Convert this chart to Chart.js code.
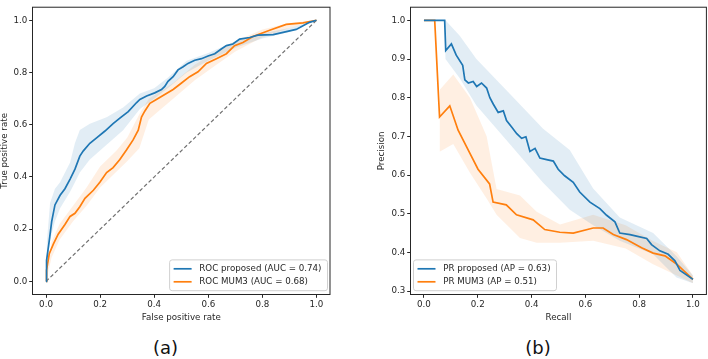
<!DOCTYPE html>
<html>
<head>
<meta charset="utf-8">
<script src="https://cdn.jsdelivr.net/npm/chart.js@4.4.1/dist/chart.umd.min.js"></script>
<style>
  body { margin: 0; background: #fff; width: 708px; height: 359px; overflow: hidden; position: relative; font-family: "DejaVu Sans", sans-serif; }
  canvas { position: absolute; top: 0; }
  #rocChart { left: 0; }
  #prChart { left: 354px; }
  .panel { position: absolute; top: 337px; font-size: 18px; line-height: 22px; text-align: center; color: #111; }
</style>
</head>
<body>
<canvas id="rocChart" width="354" height="330"></canvas>
<canvas id="prChart" width="354" height="330"></canvas>
<div class="panel" style="left:0;width:331px">(a)</div>
<div class="panel" style="left:400px;width:276px">(b)</div>

<script>
// ROC curves
const rocXProposed = [0, 0.002, 0.012, 0.021, 0.033, 0.052, 0.07, 0.089, 0.107, 0.125, 0.138, 0.162, 0.187, 0.218, 0.248, 0.273, 0.304, 0.335, 0.347, 0.372, 0.402, 0.427, 0.439, 0.451, 0.47, 0.488, 0.507, 0.525, 0.55, 0.575, 0.599, 0.624, 0.648, 0.667, 0.691, 0.716, 0.753, 0.783, 0.84, 0.925, 0.974, 1];
const rocYProposed = [0, 0.081, 0.156, 0.23, 0.293, 0.33, 0.355, 0.392, 0.43, 0.48, 0.5, 0.529, 0.55, 0.576, 0.604, 0.625, 0.65, 0.685, 0.697, 0.71, 0.722, 0.735, 0.747, 0.766, 0.784, 0.81, 0.822, 0.835, 0.847, 0.853, 0.863, 0.872, 0.89, 0.903, 0.909, 0.928, 0.934, 0.943, 0.945, 0.965, 0.992, 1];
const rocXMum3 = [0, 0.002, 0.012, 0.027, 0.045, 0.07, 0.089, 0.107, 0.125, 0.144, 0.175, 0.199, 0.224, 0.248, 0.273, 0.298, 0.322, 0.341, 0.353, 0.365, 0.384, 0.408, 0.439, 0.47, 0.501, 0.531, 0.562, 0.593, 0.63, 0.667, 0.697, 0.728, 0.765, 0.827, 0.888, 0.95, 1];
const rocYMum3 = [0, 0.043, 0.106, 0.143, 0.181, 0.218, 0.249, 0.261, 0.286, 0.318, 0.349, 0.38, 0.417, 0.436, 0.467, 0.504, 0.542, 0.579, 0.629, 0.652, 0.682, 0.697, 0.716, 0.735, 0.76, 0.784, 0.803, 0.835, 0.853, 0.872, 0.903, 0.915, 0.938, 0.962, 0.984, 0.99, 1];
const rocBandXProposed = [0, 0.003, 0.015, 0.033, 0.052, 0.089, 0.107, 0.125, 0.162, 0.224, 0.285, 0.347, 0.4, 0.45, 0.52, 0.6, 0.7, 0.8, 0.9, 1];
const rocUpperProposed = [0, 0.15, 0.3, 0.355, 0.38, 0.455, 0.53, 0.58, 0.604, 0.629, 0.666, 0.72, 0.74, 0.78, 0.845, 0.875, 0.92, 0.95, 0.97, 1];
const rocLowerProposed = [0, 0.04, 0.16, 0.23, 0.28, 0.343, 0.38, 0.417, 0.467, 0.523, 0.579, 0.66, 0.7, 0.74, 0.8, 0.845, 0.895, 0.93, 0.955, 1];
const rocBandXMum3 = [0, 0.02, 0.05, 0.1, 0.15, 0.2, 0.26, 0.3, 0.345, 0.38, 0.47, 0.55, 0.63, 0.7, 0.8, 0.9, 1];
const rocUpperMum3 = [0, 0.15, 0.22, 0.29, 0.36, 0.44, 0.5, 0.55, 0.64, 0.7, 0.76, 0.83, 0.88, 0.92, 0.965, 0.99, 1];
const rocLowerMum3 = [0, 0.09, 0.16, 0.23, 0.29, 0.36, 0.42, 0.46, 0.51, 0.62, 0.7, 0.77, 0.83, 0.88, 0.935, 0.97, 1];
const chanceX = [0, 1];
const chanceY = [0, 1];

// PR curves
const prXProposed = [0, 0.077, 0.081, 0.102, 0.12, 0.144, 0.152, 0.165, 0.183, 0.196, 0.214, 0.233, 0.245, 0.258, 0.276, 0.295, 0.307, 0.326, 0.345, 0.363, 0.379, 0.394, 0.413, 0.431, 0.456, 0.481, 0.499, 0.523, 0.555, 0.579, 0.617, 0.654, 0.679, 0.71, 0.728, 0.766, 0.79, 0.828, 0.846, 0.877, 0.908, 0.933, 0.952, 1];
const prYProposed = [1, 1, 0.922, 0.939, 0.91, 0.884, 0.846, 0.838, 0.842, 0.829, 0.838, 0.825, 0.8, 0.783, 0.762, 0.766, 0.741, 0.724, 0.707, 0.695, 0.699, 0.661, 0.669, 0.644, 0.64, 0.636, 0.615, 0.598, 0.581, 0.556, 0.53, 0.513, 0.496, 0.479, 0.45, 0.446, 0.442, 0.436, 0.42, 0.404, 0.395, 0.378, 0.353, 0.33];
const prXMum3 = [0, 0.04, 0.058, 0.096, 0.127, 0.17, 0.201, 0.244, 0.257, 0.306, 0.344, 0.406, 0.449, 0.505, 0.555, 0.629, 0.666, 0.704, 0.753, 0.809, 0.852, 0.896, 0.939, 1];
const prYMum3 = [1, 1, 0.75, 0.779, 0.716, 0.657, 0.615, 0.577, 0.53, 0.523, 0.497, 0.484, 0.459, 0.452, 0.45, 0.463, 0.463, 0.446, 0.433, 0.412, 0.398, 0.391, 0.37, 0.33];
const prBandXProposed = [0.077, 0.08, 0.133, 0.195, 0.319, 0.443, 0.542, 0.629, 0.728, 0.852, 0.939, 1];
const prUpperProposed = [1, 1, 0.96, 0.9, 0.81, 0.72, 0.665, 0.565, 0.49, 0.45, 0.39, 0.34];
const prLowerProposed = [1, 0.9, 0.85, 0.78, 0.68, 0.58, 0.51, 0.47, 0.43, 0.395, 0.335, 0.32];
const prBandXMum3 = [0.058, 0.109, 0.171, 0.233, 0.27, 0.357, 0.419, 0.506, 0.629, 0.75, 0.85, 0.94, 1];
const prUpperMum3 = [0.82, 0.86, 0.8, 0.7, 0.564, 0.547, 0.505, 0.472, 0.497, 0.47, 0.43, 0.4, 0.34];
const prLowerMum3 = [0.66, 0.68, 0.606, 0.539, 0.497, 0.437, 0.425, 0.425, 0.43, 0.41, 0.37, 0.34, 0.32];

// axes
const rocTicks = [0, 0.2, 0.4, 0.6, 0.8, 1.0];
const prXTicks = [0, 0.2, 0.4, 0.6, 0.8, 1.0];
const prYTicks = [0.3, 0.4, 0.5, 0.6, 0.7, 0.8, 0.9, 1.0];
const rocLabels = ['ROC proposed (AUC = 0.74)', 'ROC MUM3 (AUC = 0.68)'];
const prLabels = ['PR proposed (AP = 0.63)', 'PR MUM3 (AP = 0.51)'];

const BLUE = '#1f77b4';
const ORANGE = '#ff7f0e';
const FONT = { family: '"DejaVu Sans"', size: 8.7 };
const TEXT = '#262626';

function pts(xs, ys) {
  return xs.map((x, i) => ({ x: x, y: ys[i] }));
}

function curve(label, xs, ys, color) {
  return { label: label, data: pts(xs, ys), borderColor: color, borderWidth: 1.7, pointRadius: 0, fill: false, legend: true };
}

// upper edge fills down to the next dataset (the lower edge)
function band(xs, upper, lower, fillColor) {
  return [
    { data: pts(xs, upper), borderWidth: 0, pointRadius: 0, backgroundColor: fillColor, fill: '+1' },
    { data: pts(xs, lower), borderWidth: 0, pointRadius: 0, fill: false }
  ];
}

function axis(min, max, ticks, title, size, vertical) {
  return {
    type: 'linear',
    min: min,
    max: max,
    afterBuildTicks: s => { s.ticks = ticks.map(v => ({ value: v })); },
    afterFit: s => { if (vertical) s.width = size; else s.height = size; },
    grid: { drawOnChartArea: false, tickLength: 3.3, color: TEXT },
    border: { display: false },
    ticks: { autoSkip: false, maxRotation: 0, padding: 2, color: TEXT, font: FONT, callback: v => v.toFixed(1) },
    title: { display: true, text: title, color: TEXT, font: FONT, padding: vertical ? { top: 0, bottom: 0 } : { top: 0, bottom: 6.8 } }
  };
}

// axes frame + matplotlib-like legend box
const framePlugin = {
  id: 'frame',
  afterDatasetsDraw(chart, args, opts) {
    const ctx = chart.ctx;
    const a = chart.chartArea;
    ctx.save();
    ctx.strokeStyle = TEXT;
    ctx.lineWidth = 1;
    ctx.strokeRect(a.left, a.top, a.right - a.left, a.bottom - a.top);

    const items = chart.data.datasets.filter(d => d.legend);
    ctx.font = '8.7px "DejaVu Sans"';
    const textW = Math.max(...items.map(d => ctx.measureText(d.label).width));
    const w = 29.7 + textW + 6;
    const h = 30.8;
    const x = opts.side === 'right' ? a.right - 2.5 - w : a.left + 3;
    const y = a.bottom - 3.8 - h;
    ctx.beginPath();
    ctx.roundRect(x, y, w, h, 2.5);
    ctx.fillStyle = 'rgba(255,255,255,0.8)';
    ctx.fill();
    ctx.strokeStyle = '#d0d0d0';
    ctx.stroke();
    items.forEach((d, i) => {
      const cy = y + 8.9 + 13 * i;
      ctx.beginPath();
      ctx.moveTo(x + 4, cy);
      ctx.lineTo(x + 22, cy);
      ctx.strokeStyle = d.borderColor;
      ctx.lineWidth = 1.7;
      ctx.stroke();
      ctx.fillStyle = TEXT;
      ctx.textBaseline = 'middle';
      ctx.textAlign = 'left';
      ctx.fillText(d.label, x + 29.7, cy);
    });
    ctx.restore();
  }
};

const common = {
  responsive: false,
  animation: false,
  events: [],
  plugins: { legend: { display: false }, tooltip: { enabled: false } },
  elements: { line: { tension: 0 } }
};

new Chart(document.getElementById('rocChart'), {
  type: 'line',
  data: {
    datasets: [
      curve(rocLabels[0], rocXProposed, rocYProposed, BLUE),
      curve(rocLabels[1], rocXMum3, rocYMum3, ORANGE),
      { data: pts(chanceX, chanceY), borderColor: '#707070', borderWidth: 1.2, borderDash: [3.8, 2.4], pointRadius: 0, fill: false },
      ...band(rocBandXProposed, rocUpperProposed, rocLowerProposed, 'rgba(31,119,180,0.13)'),
      ...band(rocBandXMum3, rocUpperMum3, rocLowerMum3, 'rgba(255,127,14,0.12)')
    ]
  },
  options: {
    ...common,
    layout: { padding: { top: 1, right: 24, left: 0, bottom: 0 } },
    plugins: { ...common.plugins, frame: { side: 'right' } },
    scales: {
      x: axis(-0.05, 1.05, rocTicks, 'False positive rate', 35.5, false),
      y: axis(-0.05, 1.05, rocTicks, 'True positive rate', 32.5, true)
    }
  },
  plugins: [framePlugin]
});

new Chart(document.getElementById('prChart'), {
  type: 'line',
  data: {
    datasets: [
      curve(prLabels[0], prXProposed, prYProposed, BLUE),
      curve(prLabels[1], prXMum3, prYMum3, ORANGE),
      ...band(prBandXProposed, prUpperProposed, prLowerProposed, 'rgba(31,119,180,0.13)'),
      ...band(prBandXMum3, prUpperMum3, prLowerMum3, 'rgba(255,127,14,0.12)')
    ]
  },
  options: {
    ...common,
    layout: { padding: { top: 1, right: 1.6, left: 23, bottom: 0 } },
    plugins: { ...common.plugins, frame: { side: 'left' } },
    scales: {
      x: axis(-0.05, 1.05, prXTicks, 'Recall', 35.5, false),
      y: axis(0.291, 1.034, prYTicks, 'Precision', 33.5, true)
    }
  },
  plugins: [framePlugin]
});
</script>
</body>
</html>
